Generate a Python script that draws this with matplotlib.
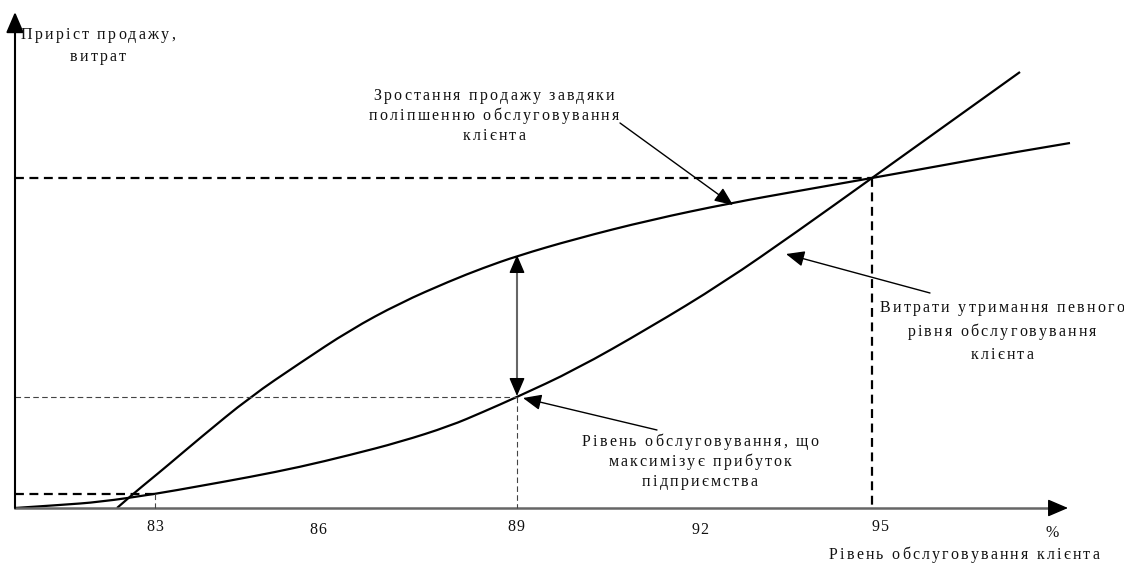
import matplotlib
matplotlib.use("Agg")
import matplotlib.pyplot as plt
from matplotlib.font_manager import FontProperties
from matplotlib.path import Path
from matplotlib.patches import PathPatch

# Curves (x = px along axis, y = px from top)
sales_x = [117, 133, 150, 167, 200, 250, 300, 350, 400, 450, 483, 517, 575, 650, 731, 798, 872, 950, 1010, 1070]
sales_y = [508, 494, 480, 466, 438, 397, 363, 330, 303, 281, 268, 256, 239, 220, 203, 191, 178, 164, 153, 143]
cost_x = [15, 60, 100, 155, 200, 250, 300, 350, 400, 450, 483, 517, 575, 649, 723, 798, 872, 946, 1020]
cost_y = [508, 505, 502, 494, 486, 477, 467, 455, 442, 426, 412, 397, 370, 328, 283, 231, 178, 125, 72]

tick_labels = ["83", "86", "89", "92", "95", "%"]
tick_x = [155, 318, 516, 700, 880, 1052]
tick_y = [527, 530, 527, 530, 527, 533]

y_title = ["Приріст продажу,", "витрат"]
x_title = "Рівень обслуговування клієнта"
sales_note = ["Зростання продажу завдяки", "поліпшенню обслуговування", "клієнта"]
cost_note = ["Витрати утримання певного", "рівня обслуговування", "клієнта"]
opt_note = ["Рівень обслуговування, що", "максимізує прибуток", "підприємства"]

W, H = 1124, 564
fig = plt.figure(figsize=(W / 100, H / 100), dpi=100)
ax = fig.add_axes([0, 0, 1, 1])
ax.set_xlim(0, W)
ax.set_ylim(H, 0)
ax.axis("off")

renderer = fig.canvas.get_renderer()
prop = FontProperties(family="Liberation Serif", size=11.5)


def spaced_text(x, y, s, track=2.2, ha="center"):
    # matplotlib has no letter spacing, so lay out char by char
    widths = []
    for ch in s:
        w, _, _ = renderer.get_text_width_height_descent(ch, prop, ismath=False)
        widths.append(w)
    total = sum(widths) + track * (len(s) - 1)
    if ha == "center":
        cx = x - total / 2
    elif ha == "right":
        cx = x - total
    else:
        cx = x
    for ch, w in zip(s, widths):
        ax.text(cx, y, ch, fontproperties=prop, ha="left", va="center", color="#111")
        cx += w + track


def arrow(tail, tip, color="black", lw=1.0, scale=16):
    ax.annotate("", xy=tip, xytext=tail,
                arrowprops=dict(arrowstyle="-|>,head_length=0.7,head_width=0.3",
                                color=color, lw=lw, mutation_scale=scale,
                                shrinkA=0, shrinkB=0))


def smooth_curve(xs, ys, **kw):
    # quadratic bezier through midpoints, points act as control points
    pts = list(zip(xs, ys))
    verts = [pts[0]]
    codes = [Path.MOVETO]
    for i in range(1, len(pts) - 1):
        mid = ((pts[i][0] + pts[i + 1][0]) / 2, (pts[i][1] + pts[i + 1][1]) / 2)
        if i == len(pts) - 2:
            mid = pts[-1]
        verts += [pts[i], mid]
        codes += [Path.CURVE3, Path.CURVE3]
    ax.add_patch(PathPatch(Path(verts, codes), fill=False, **kw))


# axes
arrow((15, 508), (15, 12), color="black", lw=1.5, scale=18)
ax.plot([15, 1058], [508, 508], color="#666", lw=1.8)
arrow((1055, 508), (1068, 508), color="black", lw=1.0, scale=18)

# guide lines
thick = dict(color="black", lw=1.6, ls=(0, (4, 2.5)))
thin = dict(color="#444", lw=0.8, ls=(0, (5, 3)))
ax.plot([15, 872], [178, 178], **thick)
ax.plot([872, 872], [178, 508], **thick)
ax.plot([15, 155], [494, 494], **thick)
ax.plot([155, 155], [494, 508], **thin)
ax.plot([15, 517], [397, 397], **thin)
ax.plot([517, 517], [397, 508], **thin)

# curves
smooth_curve(sales_x, sales_y, edgecolor="black", lw=1.6)
smooth_curve(cost_x, cost_y, edgecolor="black", lw=1.6)

# profit gap
ax.plot([517, 517], [262, 388], color="#666", lw=1.5)
arrow((517, 266), (517, 255), scale=16)
arrow((517, 384), (517, 396), scale=16)

# callouts
arrow((620, 123), (733, 205))
arrow((930, 293), (786, 254))
arrow((657, 430), (523, 398))

for i, line in enumerate(sales_note):
    spaced_text(494, 96 + 20 * i, line)
for i, line in enumerate(cost_note):
    spaced_text(1002, 308 + 23.5 * i, line)
for i, line in enumerate(opt_note):
    spaced_text(700, 442 + 20 * i, line)
for i, line in enumerate(y_title):
    spaced_text(98, 35 + 22 * i, line)
spaced_text(964, 555, x_title)

for lab, x, y in zip(tick_labels, tick_x, tick_y):
    spaced_text(x, y, lab, track=1.0)

fig.savefig("out.png", dpi=100)
